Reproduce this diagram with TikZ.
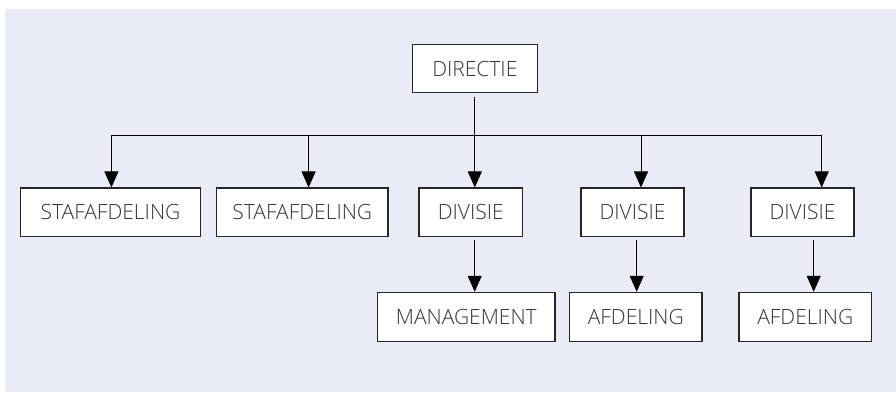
\documentclass[tikz,border=0pt]{standalone}
\usepackage{fontspec}
\IfFontExistsTF{Open Sans Light}{\setmainfont{Open Sans Light}}{\setmainfont{Open Sans}}
\usetikzlibrary{arrows.meta}
\definecolor{bgc}{HTML}{E9EBF7}
\definecolor{txt}{HTML}{333333}
\tikzset{
  box/.style={draw=black!85, line width=1.1pt, fill=white, text=txt, font=\fontsize{21}{25}\selectfont, inner sep=0pt, minimum height=48.6pt},
  link/.style={line width=0.9pt, draw=black},
  arr/.style={link, -{Triangle[width=14pt,length=16pt]}}
}
\begin{document}
\begin{tikzpicture}[x=1pt,y=-1pt]
\useasboundingbox (0,0) rectangle (896,392);
\fill[bgc] (5,9) rectangle (896,392);
\node[box, minimum width=125pt] (dir) at (474.8,68.5) {DIRECTIE};
\node[box, minimum width=180.4pt] (s1) at (110.5,212.3) {STAFAFDELING};
\node[box, minimum width=171.3pt] (s2) at (302.3,212.3) {STAFAFDELING};
\node[box, minimum width=103.7pt] (v1) at (470.8,212.3) {DIVISIE};
\node[box, minimum width=103pt] (v2) at (632.5,212.3) {DIVISIE};
\node[box, minimum width=103pt] (v3) at (802.5,212.3) {DIVISIE};
\node[box, minimum width=177.3pt, minimum height=49.4pt] (m) at (466.3,317) {MANAGEMENT};
\node[box, minimum width=132.3pt, minimum height=49.4pt] (a1) at (635.8,317) {AFDELING};
\node[box, minimum width=132.7pt, minimum height=49.4pt] (a2) at (805.3,317) {AFDELING};
\coordinate (b1) at (111.4,135);
\coordinate (b2) at (308.6,135);
\coordinate (b4) at (641,135);
\coordinate (b5) at (821.7,135);
\coordinate (c1) at (474.7,240);
\coordinate (c2) at (636.7,240);
\coordinate (c3) at (813.7,240);
\draw[link] (b1) -- (b5);
\draw[arr] ([yshift=-4pt]dir.south) -- (dir.south |- v1.north);
\draw[arr] (b1) -- (b1 |- s1.north);
\draw[arr] (b2) -- (b2 |- s2.north);
\draw[arr] (b4) -- (b4 |- v2.north);
\draw[arr] (b5) -- (b5 |- v3.north);
\draw[arr] (c1) -- (c1 |- m.north);
\draw[arr] (c2) -- (c2 |- a1.north);
\draw[arr] (c3) -- (c3 |- a2.north);
\end{tikzpicture}
\end{document}
